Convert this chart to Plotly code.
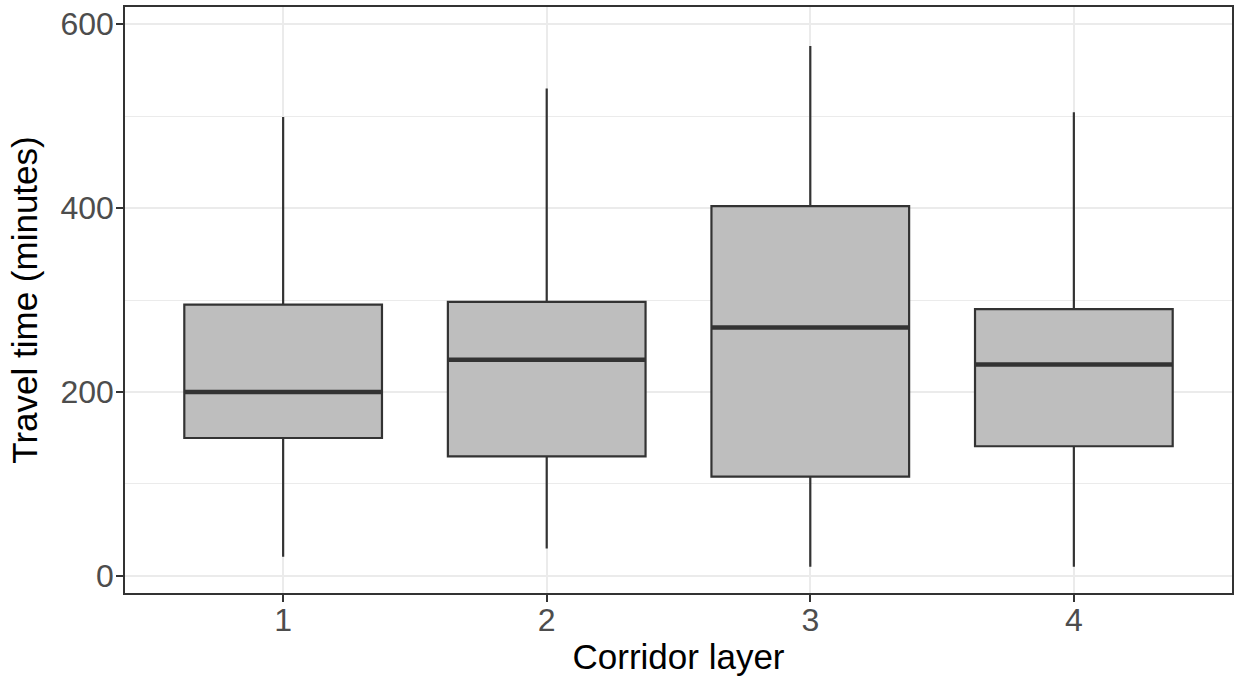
import plotly.graph_objects as go

# Data
layers = [1, 2, 3, 4]
tick_labels = ["1", "2", "3", "4"]
lower_whisker = [21, 30, 10, 10]
q1 = [150, 130, 108, 141]
median = [200, 235, 270, 230]
q3 = [295, 298, 402, 290]
upper_whisker = [499, 530, 576, 504]

BOX_W = 0.75
LINE = "#333333"
FILL = "#BEBEBE"
FONT = "Liberation Sans, Arial, sans-serif"

fig = go.Figure()
fig.add_trace(go.Box(
    x=layers, q1=q1, median=median, q3=q3,
    lowerfence=lower_whisker, upperfence=upper_whisker,
    width=BOX_W, whiskerwidth=0,
    fillcolor=FILL, line=dict(color=LINE, width=2.2),
    boxpoints=False, showlegend=False, hoverinfo="skip",
))
# thicker median segments (ggplot style)
for xi, m in zip(layers, median):
    fig.add_trace(go.Scatter(
        x=[xi - BOX_W / 2, xi + BOX_W / 2], y=[m, m], mode="lines",
        line=dict(color=LINE, width=4.5), showlegend=False, hoverinfo="skip",
    ))

fig.update_layout(
    width=1238, height=683,
    margin=dict(l=125, r=4, t=7, b=90),
    paper_bgcolor="white", plot_bgcolor="white",
    font=dict(family=FONT, color="#4D4D4D", size=32),
)
fig.update_xaxes(
    range=[0.4, 4.6], tickmode="array", tickvals=layers, ticktext=tick_labels,
    showgrid=True, gridcolor="#EBEBEB", gridwidth=1.8,
    showline=True, mirror=True, linecolor=LINE, linewidth=1.5,
    ticks="outside", ticklen=7, tickwidth=1.5, tickcolor=LINE,
    tickfont=dict(size=32, color="#4D4D4D"), ticklabelstandoff=-9,
    title=dict(text="Corridor layer", font=dict(size=35, color="black"), standoff=7),
    zeroline=False,
)
fig.update_yaxes(
    range=[-18.5, 618.5], tickmode="array", tickvals=[0, 200, 400, 600],
    showgrid=True, gridcolor="#EBEBEB", gridwidth=1.8,
    minor=dict(tickvals=[100, 300, 500], showgrid=True, gridcolor="#EBEBEB", gridwidth=1, ticks=""),
    showline=True, mirror=True, linecolor=LINE, linewidth=1.5,
    ticks="outside", ticklen=7, tickwidth=1.5, tickcolor=LINE,
    tickfont=dict(size=32, color="#4D4D4D"), ticklabelstandoff=-4,
    title=dict(text="Travel time (minutes)", font=dict(size=35, color="black"), standoff=12),
    zeroline=False,
)

fig.write_html("out.html")
